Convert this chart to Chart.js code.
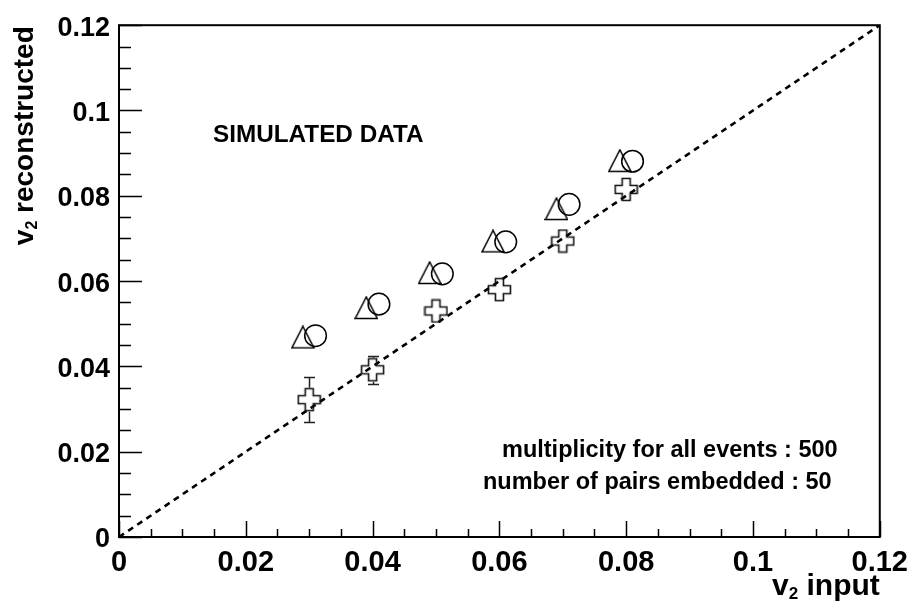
<!DOCTYPE html>
<html>
<head>
<meta charset="utf-8">
<script src="https://cdn.jsdelivr.net/npm/chart.js@4/dist/chart.umd.min.js"></script>
<style>
  html,body{margin:0;padding:0;background:#fff;}
  #c{display:block;}
</style>
</head>
<body>
<canvas id="c" width="917" height="611"></canvas>
<script>
/* ===== data ===== */
const v2In     = [0.03, 0.04, 0.05, 0.06, 0.07, 0.08];
// triangles (drawn shifted left by 0.001), circles (shifted right by 0.001)
const triX     = [0.029, 0.039, 0.049, 0.059, 0.069, 0.079];
const triY     = [0.0468, 0.0537, 0.0619, 0.0693, 0.0769, 0.0882];
const circX    = [0.031, 0.041, 0.051, 0.061, 0.071, 0.081];
const circY    = [0.0472, 0.0546, 0.0617, 0.0692, 0.0780, 0.0881];
// crosses with vertical errors
const crossY   = [0.0322, 0.0392, 0.0530, 0.0580, 0.0694, 0.0815];
const crossErr = [0.0052, 0.0033, 0, 0, 0, 0];
// y = x reference line
const diagX    = [0, 0.12];
const diagY    = [0, 0.12];
const tickVals = [0, 0.02, 0.04, 0.06, 0.08, 0.1, 0.12];

const FONT = '"Liberation Sans", Arial, Helvetica, sans-serif';

/* ===== marker images ===== */
function makeTriangle(){
  const c=document.createElement('canvas'); c.width=24; c.height=24;
  const g=c.getContext('2d');
  g.strokeStyle='#000'; g.lineWidth=1.5;
  g.beginPath(); g.moveTo(1,22.5); g.lineTo(23,22.5); g.lineTo(12,1); g.closePath(); g.stroke();
  return c;
}
function makeCross(){
  const c=document.createElement('canvas'); c.width=25; c.height=25;
  const g=c.getContext('2d');
  g.strokeStyle='#111'; g.lineWidth=1.6;
  const a=1.5, b=8.5, d=16.5, e=23.5;
  g.beginPath();
  g.moveTo(b,a); g.lineTo(d,a); g.lineTo(d,b); g.lineTo(e,b); g.lineTo(e,d); g.lineTo(d,d);
  g.lineTo(d,e); g.lineTo(b,e); g.lineTo(b,d); g.lineTo(a,d); g.lineTo(a,b); g.lineTo(b,b);
  g.closePath(); g.stroke();
  return c;
}

const pts=(xs,ys)=>xs.map((x,i)=>({x, y:ys[i]}));

/* ===== plugins ===== */
const frameTicks={
  id:'frameTicks',
  afterDraw(chart){
    const {ctx, chartArea:a, scales:{x, y}}=chart;
    ctx.save();
    ctx.strokeStyle='#000';
    // ticks (inside)
    ctx.lineWidth=1.5;
    ctx.beginPath();
    for(let k=0;k<=24;k++){
      const v=k*0.005, major=(k%4===0);
      const px=Math.round(x.getPixelForValue(v))+0.5;
      ctx.moveTo(px,a.bottom); ctx.lineTo(px,a.bottom-(major?16:8));
      const py=Math.round(y.getPixelForValue(v))+0.5;
      ctx.moveTo(a.left,py); ctx.lineTo(a.left+(major?23:12),py);
    }
    ctx.stroke();
    // frame
    ctx.lineWidth=2;
    ctx.strokeRect(a.left,a.top,a.right-a.left,a.bottom-a.top);

    // texts
    ctx.fillStyle='#000';
    ctx.textBaseline='alphabetic';
    ctx.textAlign='left';
    ctx.font='bold 24.3px '+FONT;
    ctx.fillText('SIMULATED DATA', a.left+94, a.top+117);
    ctx.font='bold 23.5px '+FONT;
    ctx.fillText('multiplicity for all events : 500', a.left+383, a.top+432);
    ctx.fillText('number of pairs embedded : 50', a.left+364, a.top+464);

    // x title: v_2 input
    const mainX='bold 30px '+FONT, subX='bold 17px '+FONT;
    ctx.font=mainX; const wv=ctx.measureText('v').width; const wi=ctx.measureText(' input').width;
    ctx.font=subX;  const w2=ctx.measureText('2').width;
    let sx=a.right-(wv+w2+wi), by=595;
    ctx.font=mainX; ctx.fillText('v',sx,by);
    ctx.font=subX;  ctx.fillText('2',sx+wv,by+4);
    ctx.font=mainX; ctx.fillText(' input',sx+wv+w2,by);

    // y title: v_2 reconstructed (rotated)
    ctx.translate(33, a.top+1);
    ctx.rotate(-Math.PI/2);
    const mainY='bold 28px '+FONT, subY='bold 16px '+FONT;
    ctx.font=mainY; const yv=ctx.measureText('v').width; const yr=ctx.measureText(' reconstructed').width;
    ctx.font=subY;  const y2=ctx.measureText('2').width;
    let tx=-(yv+y2+yr);
    ctx.font=mainY; ctx.fillText('v',tx,0);
    ctx.font=subY;  ctx.fillText('2',tx+yv,4);
    ctx.font=mainY; ctx.fillText(' reconstructed',tx+yv+y2,0);
    ctx.restore();
  }
};

const errorBars={
  id:'errorBars',
  afterDatasetsDraw(chart){
    const {ctx, scales:{x, y}}=chart;
    ctx.save();
    ctx.strokeStyle='#222'; ctx.lineWidth=1.5;
    v2In.forEach((v,i)=>{
      if(!crossErr[i]) return;
      const px=Math.round(x.getPixelForValue(v))+0.5;
      const pc=y.getPixelForValue(crossY[i]);
      const pt=Math.round(y.getPixelForValue(crossY[i]+crossErr[i]))+0.5;
      const pb=Math.round(y.getPixelForValue(crossY[i]-crossErr[i]))+0.5;
      const half=12;
      ctx.beginPath();
      if(pt<pc-half){ ctx.moveTo(px,pt); ctx.lineTo(px,pc-half); }
      if(pb>pc+half){ ctx.moveTo(px,pc+half); ctx.lineTo(px,pb); }
      ctx.moveTo(px-5.5,pt); ctx.lineTo(px+5.5,pt);
      ctx.moveTo(px-5.5,pb); ctx.lineTo(px+5.5,pb);
      ctx.stroke();
    });
    ctx.restore();
  }
};

/* ===== chart ===== */
const fmt=v=>Number(Number(v).toFixed(3)).toString();

new Chart(document.getElementById('c'),{
  type:'scatter',
  data:{datasets:[
    { data:pts(triX,triY), pointStyle:makeTriangle(), pointRadius:12, order:1 },
    { data:pts(circX,circY), pointStyle:'circle', pointRadius:10.8, borderColor:'#000',
      backgroundColor:'rgba(0,0,0,0)', borderWidth:1.5, order:1 },
    { data:pts(v2In,crossY), pointStyle:makeCross(), pointRadius:12, order:1 },
    { data:pts(diagX,diagY), showLine:true, pointRadius:0, borderColor:'#000',
      borderWidth:2.6, borderDash:[6,5], order:2 }
  ]},
  options:{
    responsive:false, animation:false,
    layout:{padding:{top:16,right:34,left:0,bottom:0}},
    plugins:{legend:{display:false}, tooltip:{enabled:false}},
    scales:{
      x:{
        type:'linear', min:0, max:0.12,
        afterFit(s){ s.height=74; },
        afterBuildTicks(s){ s.ticks=tickVals.map(v=>({value:v})); },
        grid:{display:false, drawTicks:false}, border:{display:false},
        ticks:{ color:'#000', padding:9, maxRotation:0, font:{family:FONT, size:29, weight:'bold'}, callback:fmt }
      },
      y:{
        type:'linear', min:0, max:0.12,
        afterFit(s){ s.width=119; },
        afterBuildTicks(s){ s.ticks=tickVals.map(v=>({value:v})); },
        grid:{display:false, drawTicks:false}, border:{display:false},
        ticks:{ color:'#000', padding:9, labelOffset:3, font:{family:FONT, size:27, weight:'bold'}, callback:fmt }
      }
    }
  },
  plugins:[errorBars, frameTicks]
});
</script>
</body>
</html>
